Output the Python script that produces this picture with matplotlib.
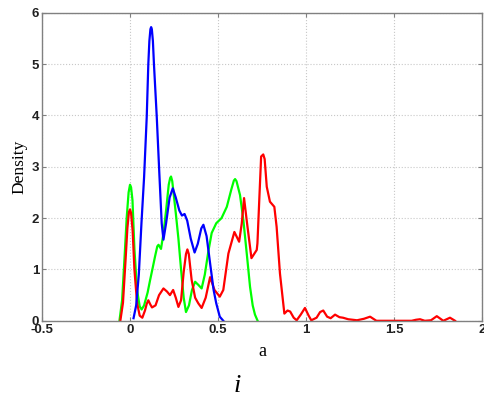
import numpy as np
import matplotlib.pyplot as plt

# Kernel density curves, read as (a, density) pairs
blue_x = [0.02, 0.035, 0.05, 0.065, 0.08, 0.095, 0.104, 0.11, 0.116, 0.12, 0.124, 0.13, 0.136, 0.152,
          0.167, 0.18, 0.19, 0.205, 0.225, 0.243, 0.26, 0.28, 0.295, 0.31, 0.325, 0.345, 0.367,
          0.385, 0.405, 0.417, 0.435, 0.455, 0.475, 0.49, 0.51, 0.53]
blue_y = [0.05, 0.3, 0.9, 1.9, 2.8, 3.97, 5.0, 5.45, 5.68, 5.72, 5.68, 5.45, 5.0, 3.97,
          2.84, 1.9, 1.58, 1.9, 2.4, 2.58, 2.4, 2.15, 2.05, 2.08, 1.95, 1.6, 1.33,
          1.5, 1.8, 1.87, 1.65, 1.12, 0.6, 0.34, 0.08, 0.0]

red_x = [-0.055, -0.04, -0.025, -0.015, -0.006, 0.0, 0.006, 0.015, 0.025, 0.04, 0.055, 0.07, 0.085,
         0.095, 0.104, 0.115, 0.125, 0.145, 0.165, 0.19, 0.21, 0.227, 0.245, 0.26, 0.275, 0.29,
         0.305, 0.318, 0.326, 0.334, 0.35, 0.37, 0.388, 0.407, 0.43, 0.455, 0.48, 0.51, 0.53,
         0.559, 0.593, 0.62, 0.635, 0.648, 0.665, 0.69, 0.72, 0.724, 0.735, 0.745, 0.757, 0.765,
         0.777, 0.795, 0.82, 0.833, 0.852, 0.877, 0.895, 0.91, 0.93, 0.947, 0.97, 0.994, 1.015,
         1.03, 1.06, 1.08, 1.098, 1.12, 1.14, 1.165, 1.19, 1.21, 1.24, 1.29, 1.33, 1.364,
         1.4, 1.45, 1.5, 1.6, 1.625, 1.648, 1.675, 1.71, 1.743, 1.78, 1.818, 1.847]
red_y = [0.0, 0.35, 1.2, 1.8, 2.12, 2.17, 2.1, 1.75, 1.0, 0.35, 0.1, 0.06, 0.2,
         0.33, 0.4, 0.32, 0.26, 0.3, 0.5, 0.63, 0.57, 0.5, 0.6, 0.45, 0.27, 0.4,
         0.95, 1.3, 1.39, 1.3, 0.8, 0.45, 0.34, 0.25, 0.45, 0.85, 0.6, 0.47, 0.6,
         1.31, 1.73, 1.54, 1.9, 2.39, 1.9, 1.22, 1.38, 1.51, 2.4, 3.2, 3.24, 3.15,
         2.61, 2.32, 2.22, 1.83, 0.92, 0.14, 0.2, 0.18, 0.06, 0.01, 0.12, 0.25, 0.1,
         0.01, 0.06, 0.17, 0.2, 0.08, 0.05, 0.12, 0.07, 0.06, 0.03, 0.01, 0.04, 0.08,
         0.0, 0.0, 0.0, 0.0, 0.02, 0.03, 0.0, 0.01, 0.09, 0.0, 0.06, 0.0]

green_x = [-0.06, -0.045, -0.03, -0.019, -0.008, 0.0, 0.006, 0.014, 0.025, 0.04, 0.055, 0.066,
           0.08, 0.1, 0.114, 0.13, 0.142, 0.155, 0.162, 0.176, 0.19, 0.205, 0.22, 0.228, 0.233,
           0.24, 0.26, 0.275, 0.29, 0.305, 0.318, 0.335, 0.352, 0.37, 0.388, 0.407, 0.425,
           0.445, 0.464, 0.49, 0.52, 0.55, 0.575, 0.59, 0.597, 0.605, 0.625, 0.644, 0.665,
           0.682, 0.697, 0.71, 0.725]
green_y = [0.0, 0.4, 1.3, 2.0, 2.5, 2.65, 2.6, 2.35, 1.4, 0.6, 0.28, 0.22,
           0.3, 0.55, 0.79, 1.05, 1.25, 1.45, 1.48, 1.4, 1.7, 2.15, 2.65, 2.78, 2.81,
           2.72, 2.1, 1.6, 1.0, 0.45, 0.17, 0.3, 0.6, 0.76, 0.7, 0.63, 0.9,
           1.35, 1.71, 1.9, 2.0, 2.22, 2.55, 2.73, 2.76, 2.72, 2.45, 1.96, 1.25,
           0.66, 0.3, 0.12, 0.0]

x_ticks = [-0.5, 0, 0.5, 1, 1.5, 2]
x_labels = ["-0.5", "0", "0.5", "1", "1.5", "2"]
y_ticks = [0, 1, 2, 3, 4, 5, 6]

fig = plt.figure(figsize=(4.84, 3.98), dpi=100)
ax = fig.add_axes([0.0868, 0.194, 0.9091, 0.774])

for xs, ys, c in [(green_x, green_y, "#00ff00"),
                  (red_x, red_y, "#ff0000"),
                  (blue_x, blue_y, "#0000ff")]:
    ax.plot(xs, ys, color=c, lw=1.6, solid_joinstyle="round")

ax.set_xlim(-0.5, 2)
ax.set_ylim(0, 6)
ax.set_xticks(x_ticks)
ax.set_xticklabels(x_labels)
ax.set_yticks(y_ticks)

ax.grid(True, color="#c8c8c8", linestyle=":", linewidth=0.8)
for s in ax.spines.values():
    s.set_color("#808080")
    s.set_linewidth(1.0)
ax.tick_params(direction="in", length=3, color="#808080", top=True, right=True,
               labelsize=9.5, pad=2)
for lab in ax.get_xticklabels() + ax.get_yticklabels():
    lab.set_fontfamily("Liberation Sans")
    lab.set_fontweight("bold")
    lab.set_color("#202020")

ax.set_ylabel("Density", fontfamily="Liberation Serif", fontsize=12.5, labelpad=3)
ax.set_xlabel("a", fontfamily="Liberation Serif", fontsize=13, labelpad=5)

fig.text(237 / 484, 0.015, "i", fontfamily="Liberation Serif", style="italic",
         fontsize=19, ha="center", va="baseline")

fig.savefig("out.png", dpi=100)
